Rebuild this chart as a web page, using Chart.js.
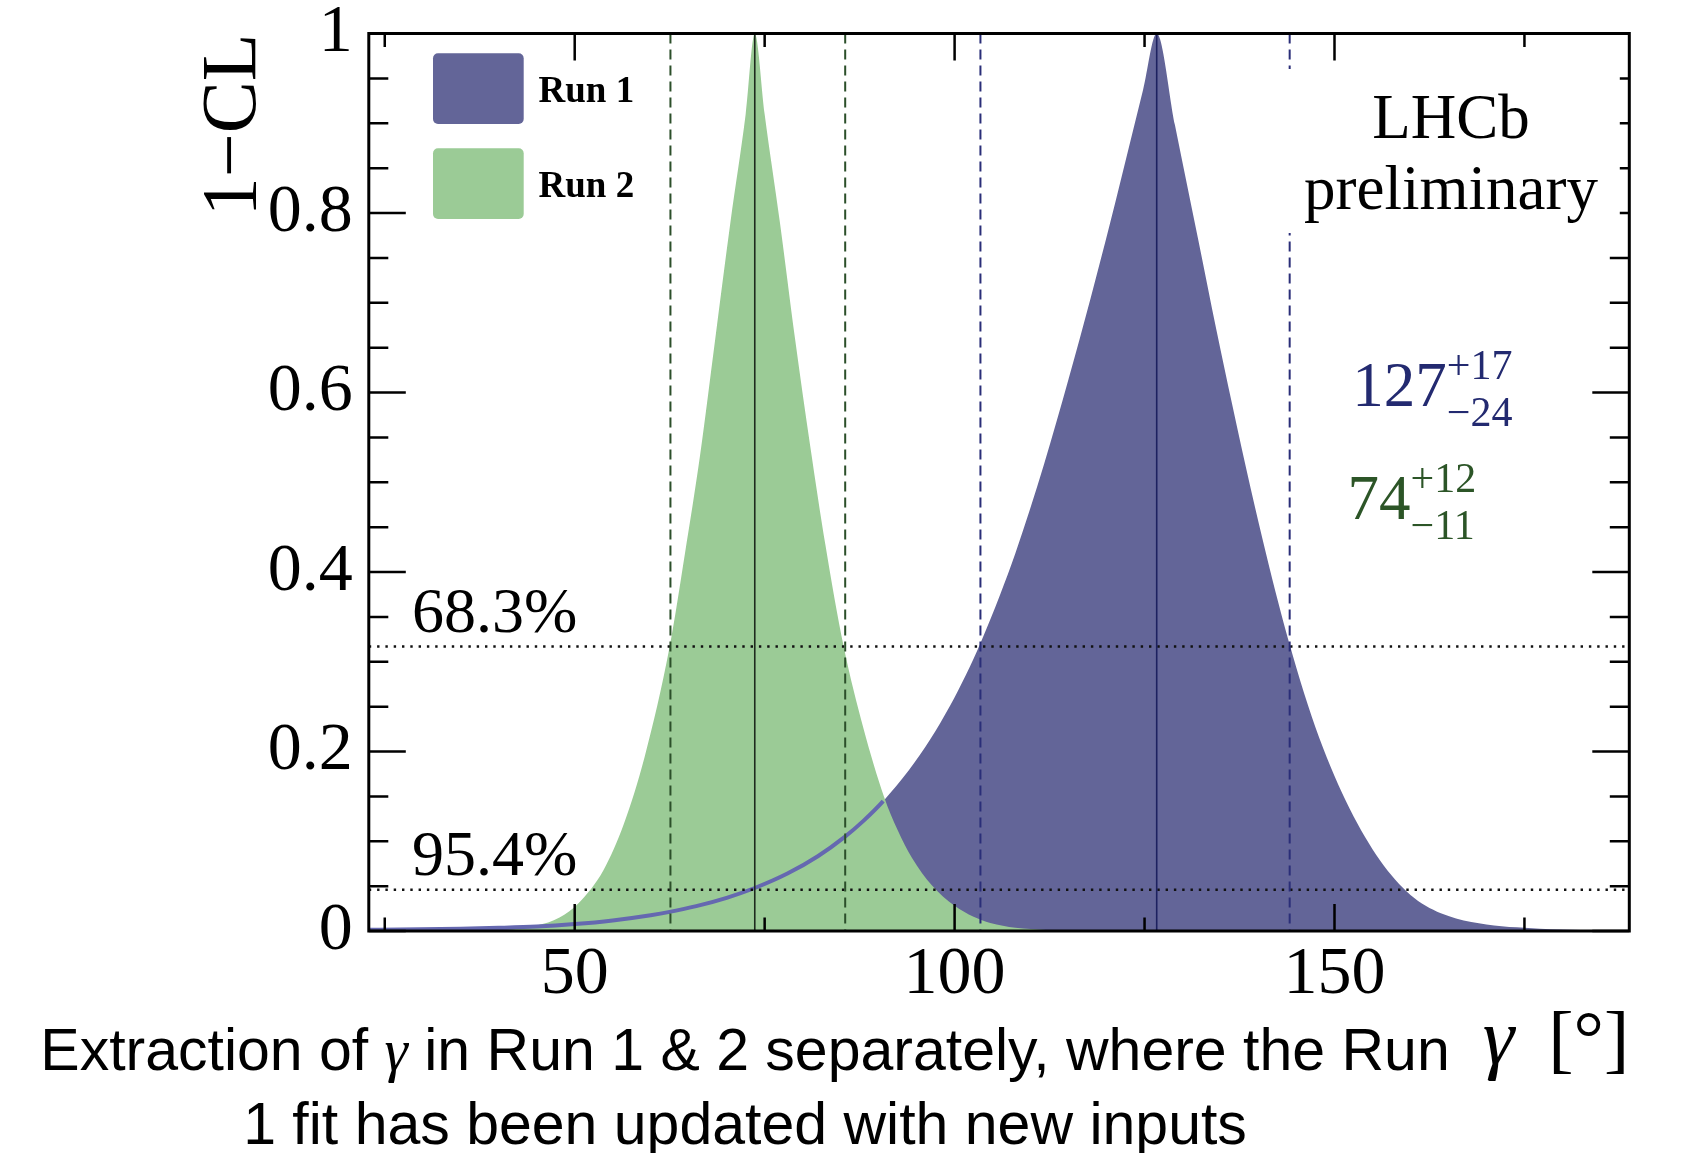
<!DOCTYPE html>
<html>
<head>
<meta charset="utf-8">
<title>Extraction of γ in Run 1 &amp; 2</title>
<script src="https://cdn.jsdelivr.net/npm/chart.js@4.4.0/dist/chart.umd.min.js"></script>
<style>
  html, body { margin: 0; padding: 0; background: #ffffff; overflow: hidden; }
  #wrap { position: relative; width: 1685px; height: 1153px; }
  #gammaChart { position: absolute; left: 0; top: 0; }
  .caption {
    position: absolute; left: 0; top: 1013px; width: 1490px;
    text-align: center; white-space: nowrap; color: #000;
    font-family: 'Liberation Sans', Arial, sans-serif; font-size: 59px; line-height: 74px;
  }
  .caption i { font-family: 'Liberation Serif', 'Times New Roman', serif; }
</style>
</head>
<body>
<div id="wrap">
  <canvas id="gammaChart" width="1685" height="1153"></canvas>
  <div class="caption">Extraction of <i>γ</i> in Run 1 &amp; 2 separately, where the Run<br>1 fit has been updated with new inputs</div>
</div>
<script>
// 1-CL scans of gamma

const run1Gamma = [22.9, 27, 35, 40, 45, 50, 55, 60, 62.5, 66, 70, 73.7, 78, 82, 85.5, 88, 90.6, 94, 96.8, 99.4,
    101.5, 103.4, 106, 108, 111.8, 115, 117.9, 120.5, 122.9, 124.8, 126.6, 129, 132, 134.5, 136.5, 139, 141, 142.6,
    144, 146, 148, 150, 152, 154, 156, 158, 160, 162, 164, 166, 168, 170, 172, 174, 177, 180, 185, 188.8];
const run1CL = [0.0014, 0.0017, 0.0026, 0.0035, 0.0049, 0.0077, 0.0118, 0.0176, 0.0213, 0.0277, 0.037, 0.0479,
    0.064, 0.0833, 0.1046, 0.1227, 0.1447, 0.1793, 0.2136, 0.251, 0.2856, 0.3207, 0.375, 0.421, 0.521, 0.615,
    0.705, 0.790, 0.872, 0.937, 1.0, 0.898, 0.773, 0.668, 0.588, 0.492, 0.420, 0.366, 0.322, 0.265, 0.215,
    0.1726, 0.1363, 0.1051, 0.0786, 0.0571, 0.0402, 0.0281, 0.0197, 0.0139, 0.0100, 0.0073, 0.0054, 0.0041,
    0.0026, 0.0016, 0.0007, 0.0003];

const run2Gamma = [22.9, 33, 38, 42, 45, 48, 50.5, 53.8, 56.5, 59.2, 62.5, 64.5, 66.5, 68.5, 70.5, 72.5, 73.7, 75,
    77, 79, 81, 83, 85.4, 88, 90.7, 92.5, 94.4, 97, 100, 102.5, 104.7, 108, 112, 116, 188.8];
const run2CL = [0, 0, 0.0005, 0.002, 0.006, 0.015, 0.031, 0.068, 0.120, 0.194, 0.317, 0.42, 0.53, 0.66, 0.79, 0.91,
    1.0, 0.91, 0.79, 0.66, 0.54, 0.43, 0.317, 0.226, 0.150, 0.1125, 0.0814, 0.051, 0.028, 0.0158, 0.0089, 0.0036,
    0.0012, 0, 0];

// [low, best, high]
const run1Lines = [103.4, 126.6, 144.1];
const run2Lines = [62.6, 73.7, 85.6];
// the Run 1 outline is only shown up to where it meets the Run 2 area
const run1OutlineEnd = 90.6;

const clLevels = [0.317, 0.046];
const clLabels = ['68.3%', '95.4%'];

const xTickValues = [50, 100, 150];
const xMinorTicks = [25, 75, 125, 175];
const yTickValues = [0, 0.2, 0.4, 0.6, 0.8, 1];
const yTickLabels = ['0', '0.2', '0.4', '0.6', '0.8', '1'];
const yMinorTicks = [0.05, 0.1, 0.15, 0.25, 0.3, 0.35, 0.45, 0.5, 0.55, 0.65, 0.7, 0.75, 0.85, 0.9, 0.95];

const SERIF = "'Liberation Serif', 'Times New Roman', serif";
const COLORS = {
    run1Fill: '#636598',
    run1Line: '#6568b0',
    run1Text: '#232a70',
    run1Dash: '#2a2e78',
    run1Best: '#1d2160',
    run2Fill: '#9bcb96',
    run2Text: '#2c5527',
    run2Dash: '#2c4f2a',
    run2Best: '#1e2a1e'
};

function toPoints(xs, ys) {
    return xs.map((v, i) => ({ x: v, y: ys[i] }));
}

function vLine(ctx, scaleX, area, value, color, dash, width) {
    const px = scaleX.getPixelForValue(value);
    ctx.beginPath();
    ctx.strokeStyle = color;
    ctx.lineWidth = width;
    ctx.setLineDash(dash);
    ctx.moveTo(px, area.top);
    ctx.lineTo(px, area.bottom);
    ctx.stroke();
}

function drawResult(ctx, x, y, main, sup, sub, color) {
    ctx.fillStyle = color;
    ctx.textAlign = 'left';
    ctx.textBaseline = 'alphabetic';
    ctx.font = `63px ${SERIF}`;
    ctx.fillText(main, x, y);
    const w = ctx.measureText(main).width;
    ctx.font = `42px ${SERIF}`;
    ctx.fillText(sup, x + w, y - 27);
    ctx.fillText(sub, x + w, y + 20);
}

function legendBox(ctx, x, y, w, h, color) {
    ctx.fillStyle = color;
    ctx.beginPath();
    if (ctx.roundRect) ctx.roundRect(x, y, w, h, 5);
    else ctx.rect(x, y, w, h);
    ctx.fill();
}

const decorPlugin = {
    id: 'lhcbDecor',
    afterDatasetsDraw(chart) {
        const { ctx, chartArea: a, scales: { x, y } } = chart;
        ctx.save();

        // CL levels
        clLevels.forEach(level => {
            const py = y.getPixelForValue(level);
            ctx.beginPath();
            ctx.strokeStyle = '#111';
            ctx.lineWidth = 2.4;
            ctx.setLineDash([2.4, 5.9]);
            ctx.moveTo(a.left, py);
            ctx.lineTo(a.right, py);
            ctx.stroke();
        });

        // intervals and best-fit values
        vLine(ctx, x, a, run2Lines[0], COLORS.run2Dash, [10, 6], 2);
        vLine(ctx, x, a, run2Lines[2], COLORS.run2Dash, [10, 6], 2);
        vLine(ctx, x, a, run2Lines[1], COLORS.run2Best, [], 1.6);
        vLine(ctx, x, a, run1Lines[0], COLORS.run1Dash, [10, 6], 2);
        vLine(ctx, x, a, run1Lines[2], COLORS.run1Dash, [10, 6], 2);
        vLine(ctx, x, a, run1Lines[1], COLORS.run1Best, [], 1.6);
        ctx.setLineDash([]);

        ctx.textAlign = 'left';
        ctx.textBaseline = 'alphabetic';
        drawResult(ctx, a.right - 277.1, a.top + 372.1, '127', '+17', '\u221224', COLORS.run1Text);
        drawResult(ctx, a.right - 281.8, a.top + 485.7, '74', '+12', '\u221211', COLORS.run2Text);

        ctx.fillStyle = '#000';
        ctx.font = `64px ${SERIF}`;
        ctx.textAlign = 'left';
        clLevels.forEach((level, i) => {
            ctx.fillText(clLabels[i], a.left + 43.2, y.getPixelForValue(level) - 14.3);
        });

        // legend
        legendBox(ctx, a.left + 64.2, a.top + 19.8, 90.7, 70.7, COLORS.run1Fill);
        legendBox(ctx, a.left + 64.2, a.top + 114.8, 90.7, 70.7, COLORS.run2Fill);
        ctx.fillStyle = '#000';
        ctx.font = `bold 37px ${SERIF}`;
        ctx.fillText('Run 1', a.left + 169.7, a.top + 68.2);
        ctx.fillText('Run 2', a.left + 169.7, a.top + 163.2);

        // frame with inward ticks
        ctx.strokeStyle = '#000';
        ctx.lineWidth = 2.5;
        ctx.beginPath();
        const tickX = (vals, len) => vals.forEach(v => {
            const px = x.getPixelForValue(v);
            ctx.moveTo(px, a.bottom); ctx.lineTo(px, a.bottom - len);
            ctx.moveTo(px, a.top); ctx.lineTo(px, a.top + len);
        });
        const tickY = (vals, len) => vals.forEach(v => {
            const py = y.getPixelForValue(v);
            ctx.moveTo(a.left, py); ctx.lineTo(a.left + len, py);
            ctx.moveTo(a.right, py); ctx.lineTo(a.right - len, py);
        });
        tickX(xTickValues, 27);
        tickX(xMinorTicks, 13.5);
        tickY(yTickValues, 37);
        tickY(yMinorTicks, 19.5);
        ctx.stroke();
        ctx.lineWidth = 3;
        ctx.strokeRect(a.left, a.top, a.right - a.left, a.bottom - a.top);

        // LHCb label on a white pave (hides part of the right ticks and the dashed line)
        ctx.fillStyle = '#fff';
        ctx.fillRect(a.right - 347, a.top + 35.5, 337.5, 164);
        ctx.fillStyle = '#000';
        ctx.font = `63px ${SERIF}`;
        ctx.textAlign = 'center';
        ctx.fillText('LHCb', a.right - 178.3, a.top + 104.5);
        ctx.fillText('preliminary', a.right - 178.3, a.top + 175);

        // x axis title
        ctx.textAlign = 'right';
        ctx.font = `76px ${SERIF}`;
        ctx.fillText('[°]', a.right, a.bottom + 133);
        const bw = ctx.measureText('[°]').width;
        ctx.font = `italic 80px ${SERIF}`;
        ctx.fillText('γ', a.right - bw - 34, a.bottom + 133);

        ctx.restore();
    }
};

const ctx = document.getElementById('gammaChart');
const run1Points = toPoints(run1Gamma, run1CL);
const run2Points = toPoints(run2Gamma, run2CL);

new Chart(ctx, {
    type: 'line',
    data: {
        datasets: [
            {
                label: 'Run 1 curve',
                data: run1Points,
                borderColor: COLORS.run1Line,
                borderWidth: 4,
                fill: false,
                pointRadius: 0,
                cubicInterpolationMode: 'monotone',
                segment: {
                    borderColor: c => c.p0.parsed.x >= run1OutlineEnd ? 'rgba(0,0,0,0)' : COLORS.run1Line
                },
                order: 0
            },
            {
                label: 'Run 2',
                data: run2Points,
                backgroundColor: COLORS.run2Fill,
                borderWidth: 0,
                fill: 'origin',
                pointRadius: 0,
                cubicInterpolationMode: 'monotone',
                order: 1
            },
            {
                label: 'Run 1',
                data: run1Points,
                backgroundColor: COLORS.run1Fill,
                borderWidth: 0,
                fill: 'origin',
                pointRadius: 0,
                cubicInterpolationMode: 'monotone',
                order: 2
            }
        ]
    },
    options: {
        responsive: false,
        animation: false,
        devicePixelRatio: 1,
        layout: {
            padding: { left: 196, top: 33.5, right: 55.7, bottom: 74 }
        },
        plugins: {
            legend: { display: false },
            tooltip: { enabled: false }
        },
        scales: {
            x: {
                type: 'linear',
                min: 22.9,
                max: 188.8,
                afterBuildTicks: scale => {
                    scale.ticks = xTickValues.map(v => ({ value: v }));
                },
                afterFit: scale => {
                    scale.height = 148;
                    scale.paddingLeft = 0;
                    scale.paddingRight = 0;
                },
                grid: { display: false, drawTicks: false },
                border: { display: false },
                ticks: {
                    color: '#000',
                    padding: 3,
                    maxRotation: 0,
                    autoSkip: false,
                    font: { family: SERIF, size: 68, lineHeight: 1.2 }
                }
            },
            y: {
                type: 'linear',
                min: 0,
                max: 1,
                afterBuildTicks: scale => {
                    scale.ticks = yTickValues.map(v => ({ value: v }));
                },
                afterFit: scale => {
                    scale.width = 172.8;
                    scale.paddingTop = 0;
                    scale.paddingBottom = 0;
                },
                grid: { display: false, drawTicks: false },
                border: { display: false },
                title: {
                    display: true,
                    text: '1\u2212CL',
                    align: 'end',
                    color: '#000',
                    padding: 0,
                    font: { family: SERIF, size: 78, lineHeight: 1 }
                },
                ticks: {
                    color: '#000',
                    padding: 16,
                    autoSkip: false,
                    font: { family: SERIF, size: 68, lineHeight: 1.2 },
                    callback: (value, index) => yTickLabels[index]
                }
            }
        }
    },
    plugins: [decorPlugin]
});
</script>
</body>
</html>
